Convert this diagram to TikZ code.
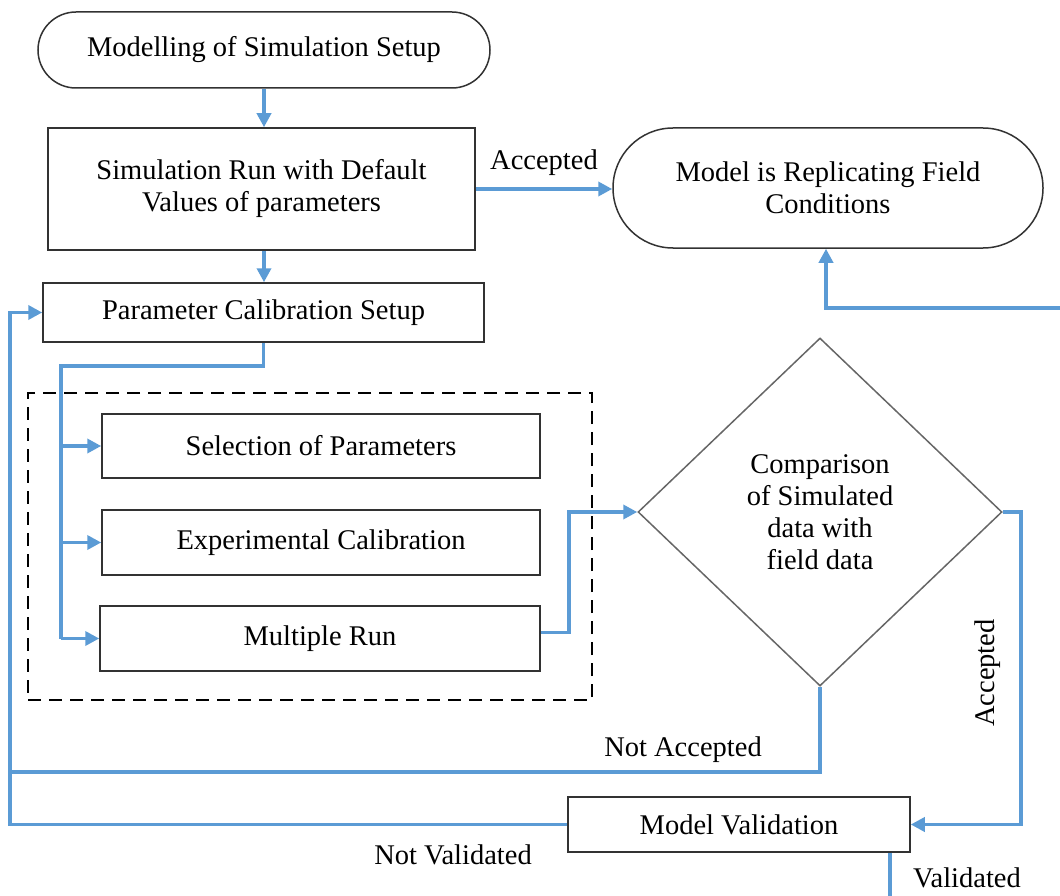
\documentclass[tikz,border=0pt]{standalone}
\usepackage{fontspec}
\setmainfont{Liberation Serif}
\usetikzlibrary{arrows.meta,shapes.geometric,calc}
\definecolor{flowblue}{RGB}{91,155,213}
\definecolor{edgegray}{RGB}{50,50,50}
\begin{document}
\begin{tikzpicture}[x=1pt,y=-1pt,
  every node/.style={font=\fontsize{28.5}{32}\selectfont, align=center, inner sep=0pt},
  boxnode/.style={draw=edgegray, line width=1.5pt, rectangle},
  termnode/.style={draw=edgegray, line width=1.5pt, rectangle},
  decnode/.style={draw=gray!80!black, line width=1.5pt, diamond},
  conn/.style={draw=flowblue, line width=3.5pt, -{Triangle[length=14pt,width=14pt]}},
  plainconn/.style={draw=flowblue, line width=3.5pt},
  lbl/.style={font=\fontsize{28.5}{32}\selectfont}]
\useasboundingbox (0,0) rectangle (1060,896);

\node[termnode, minimum width=452pt, minimum height=76pt, rounded corners=38pt] (start) at (264,50) {Modelling of Simulation Setup};
\node[boxnode, minimum width=427pt, minimum height=122pt] (sim) at (261.5,189) {Simulation Run with Default\\Values of parameters};
\node[boxnode, minimum width=441pt, minimum height=59pt] (param) at (263.5,312.5) {Parameter Calibration Setup};
\node[termnode, minimum width=430pt, minimum height=120pt, rounded corners=60pt] (rep) at (828,188) {Model is Replicating Field\\Conditions};

\node[draw=black, line width=2pt, dash pattern=on 13pt off 8pt, minimum width=564pt, minimum height=307pt] (grp) at (310,546.5) {};
\node[boxnode, minimum width=438pt, minimum height=64pt] (sel) at (321,446) {Selection of Parameters};
\node[boxnode, minimum width=438pt, minimum height=65pt] (expc) at (321,542.5) {Experimental Calibration};
\node[boxnode, minimum width=440pt, minimum height=65pt] (mult) at (320,638.5) {Multiple Run};

\node[decnode, minimum width=364pt, minimum height=348pt] (cmp) at (820,512) {Comparison\\of Simulated\\data with\\field data};
\node[boxnode, minimum width=342pt, minimum height=55pt] (val) at (739,824.5) {Model Validation};

\coordinate (bus) at (61,366);
\coordinate (lft) at (10,772);
\coordinate (vout) at (890,896);
\coordinate (rin) at (1060,308);

\draw[conn] (start.south) -- (start.south |- sim.north);
\draw[conn] (start.south |- sim.south) -- (start.south |- param.north);
\draw[conn] (sim.east) -- (sim.east -| rep.west) node[lbl, midway, above=12pt] {Accepted};
\draw[plainconn] (param.south) |- (bus) -- (bus |- mult.west);
\draw[conn] (bus |- sel.west) -- (sel.west);
\draw[conn] (bus |- expc.west) -- (expc.west);
\draw[conn] (bus |- mult.west) -- (mult.west);
\draw[conn] ([yshift=6pt]mult.east) -- ++(28,0) |- (cmp.west);
\draw[conn] (cmp.east) -- ++(18,0) |- (val.east);
\node[lbl, rotate=90] (acc2) at (988,673) {Accepted};
\draw[conn] (cmp.south) |- (lft) |- (param.west);
\draw[plainconn] (val.west) -| (lft);
\draw[plainconn] (vout |- val.south) -- (vout);
\draw[conn] (rin) -| ([xshift=-2pt]rep.south);

\node[lbl] (na) at (683,750) {Not Accepted};
\node[lbl] (nv) at (453,855) {Not Validated};
\node[lbl] (vd) at (967,878) {Validated};
\end{tikzpicture}
\end{document}
